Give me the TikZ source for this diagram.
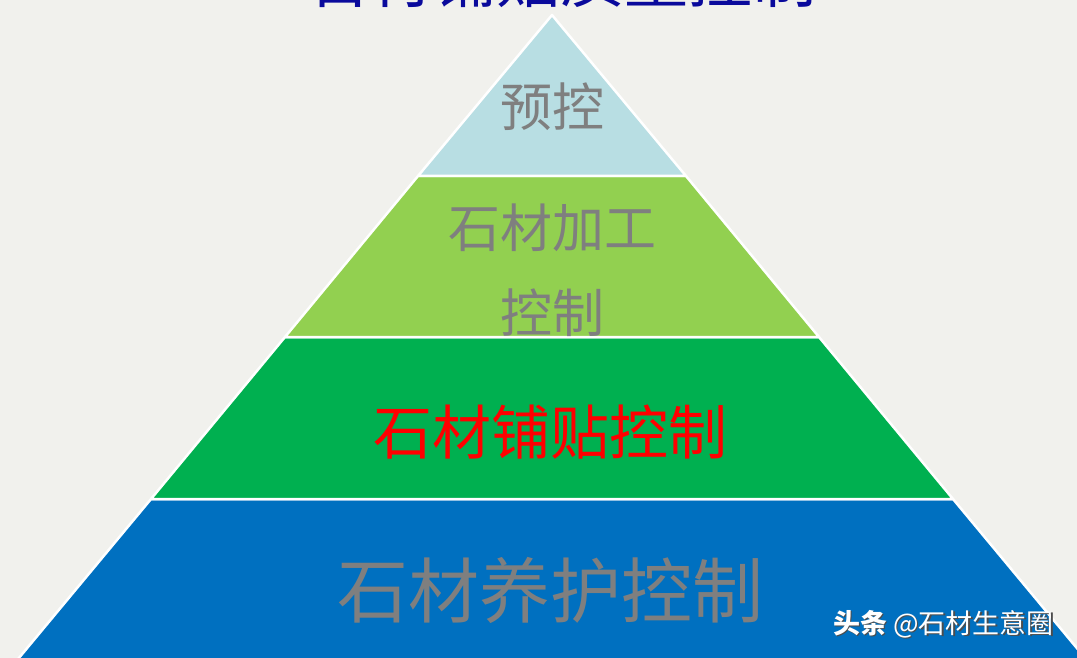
\documentclass[tikz,border=0pt]{standalone}
\usepackage{fontspec}
\usepackage{tikz}
\newfontfamily\cjk{Noto Sans CJK SC}

\definecolor{bgcol}{HTML}{F1F1ED}
\definecolor{topcol}{HTML}{B8DEE3}
\definecolor{lgreen}{HTML}{92D050}
\definecolor{dgreen}{HTML}{00B050}
\definecolor{bluecol}{HTML}{0070C0}
\definecolor{txtgray}{HTML}{7F7F7F}
\definecolor{titleblue}{HTML}{0A0A9C}

\tikzset{
  layer/.style = {draw = white, line width = 2.5pt, line join = round},
  label/.style = {inner sep = 0pt, text = txtgray, font = \cjk}
}

\begin{document}
\begin{tikzpicture}[x = 1pt, y = -1pt]
\useasboundingbox (0, 0) rectangle (1077, 658);
\fill[bgcol] (0, 0) rectangle (1077, 658);
\clip (0, 0) rectangle (1077, 658);

% title, mostly above the page
\node[anchor = base, inner sep = 0pt, text = titleblue, font = \cjk\fontsize{64}{70}\selectfont] at (560, 3) (title) {石材铺贴质量控制};

% pyramid layers
\filldraw[layer, fill = bluecol]  (151, 499) -- (953, 499) -- (1120, 700) -- (-16, 700) -- cycle;
\filldraw[layer, fill = dgreen]   (285, 337) -- (819, 337) -- (953, 499) -- (151, 499) -- cycle;
\filldraw[layer, fill = lgreen]   (418, 176) -- (686, 176) -- (819, 337) -- (285, 337) -- cycle;
\filldraw[layer, fill = topcol]   (552, 15) -- (686, 176) -- (418, 176) -- cycle;

\node[label, font = \cjk\fontsize{52}{60}\selectfont] at (552, 107) (pre) {预控};
\node[label, font = \cjk\fontsize{52}{60}\selectfont] at (552, 228) (proc) {石材加工};
\node[label, font = \cjk\fontsize{52}{60}\selectfont] at (552, 313) (proc2) {控制};
\node[label, text = red, font = \cjk\fontsize{59}{64}\selectfont] at (550, 432) (lay) {石材铺贴控制};
\node[label, font = \cjk\fontsize{71}{76}\selectfont] at (550, 590) (care) {石材养护控制};

% watermark
\node[anchor = west, inner sep = 0pt, text = black!70, font = \cjk\fontsize{27}{30}\selectfont] at (834.5, 625.5) (markshadow) {\bfseries 头条\mdseries\ @石材生意圈};
\node[anchor = west, inner sep = 0pt, text = white, font = \cjk\fontsize{27}{30}\selectfont] at (833, 624) (mark) {\bfseries 头条\mdseries\ @石材生意圈};

\end{tikzpicture}
\end{document}
